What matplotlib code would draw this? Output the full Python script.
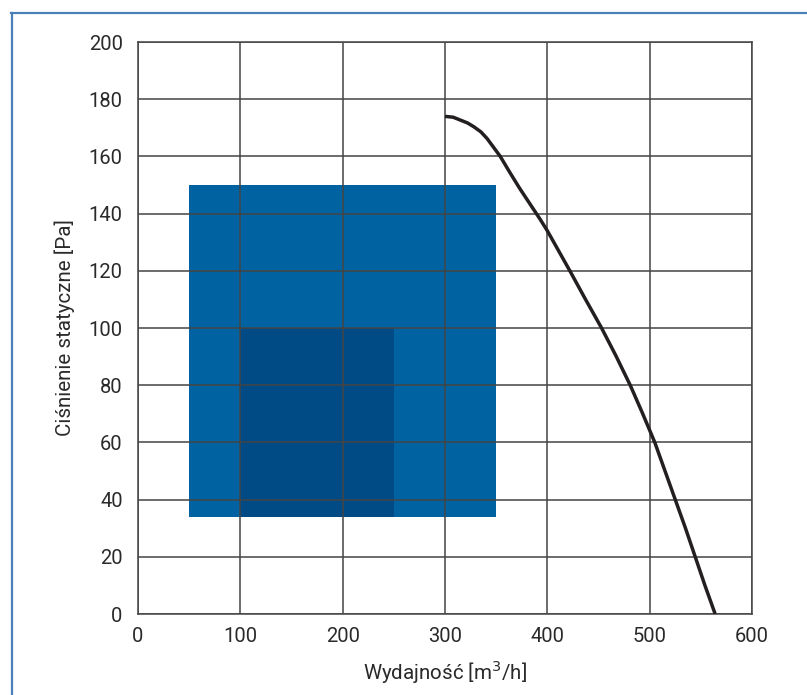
import matplotlib.pyplot as plt
from matplotlib.lines import Line2D
from matplotlib.patches import Rectangle

plt.rcParams['font.family'] = ['Roboto', 'DejaVu Sans']

# fan curve
flow = [300, 308, 315, 322, 328, 335, 341, 347, 354, 363, 373, 383, 393, 400, 411, 422, 437, 453, 467, 481, 493, 505, 515, 525, 535, 544.5, 554, 564]
pressure = [174, 173.7, 172.7, 171.7, 170.4, 168.6, 166.3, 163.4, 160, 154.6, 148.8, 143.4, 138, 134, 127, 120, 110.2, 100, 90.3, 80, 70.2, 60, 50, 40, 30, 20, 10, 0]

# working ranges (x0, x1, y0, y1)
outer_box = [50, 350, 34, 150]
inner_box = [100, 250, 34, 100]

x_ticks = [0, 100, 200, 300, 400, 500, 600]
y_ticks = list(range(0, 201, 20))

fig = plt.figure(figsize=(8.07, 6.95), dpi=100)
ax = fig.add_axes([138/807, 81/695, 614/807, 572/695])

ax.add_patch(Rectangle((outer_box[0], outer_box[2]), outer_box[1]-outer_box[0],
                       outer_box[3]-outer_box[2], color='#0062a0', lw=0, zorder=1))
ax.add_patch(Rectangle((inner_box[0], inner_box[2]), inner_box[1]-inner_box[0],
                       inner_box[3]-inner_box[2], color='#004a85', lw=0, zorder=1))

ax.plot(flow, pressure, color='#231f20', lw=2.5, solid_capstyle='butt',
        solid_joinstyle='round', zorder=4)

ax.set_xlim(0, 600)
ax.set_ylim(0, 200)
ax.set_xticks(x_ticks)
ax.set_yticks(y_ticks)
ax.grid(True, color='#444444', lw=1.1, zorder=2)
ax.set_axisbelow(False)
ax.tick_params(length=0, labelsize=14.5, colors='#2a2a2a')
ax.tick_params(axis='y', pad=11)
ax.tick_params(axis='x', pad=9)
for s in ax.spines.values():
    s.set_color('#444444')
    s.set_linewidth(1.1)

ax.set_xlabel('Wydajność [m$^3$/h]', fontsize=14.8, color='#2a2a2a', labelpad=9)
ax.set_ylabel('Ciśnienie statyczne [Pa]', fontsize=14.8, color='#2a2a2a', labelpad=10)

# frame around the figure
fig.add_artist(Line2D([11.5/807, 11.5/807], [0, 682/695], color='#4a80b8', lw=1.6))
fig.add_artist(Line2D([11/807, 1], [682/695, 682/695], color='#4a80b8', lw=1.6))

fig.savefig('out.png', dpi=100)
